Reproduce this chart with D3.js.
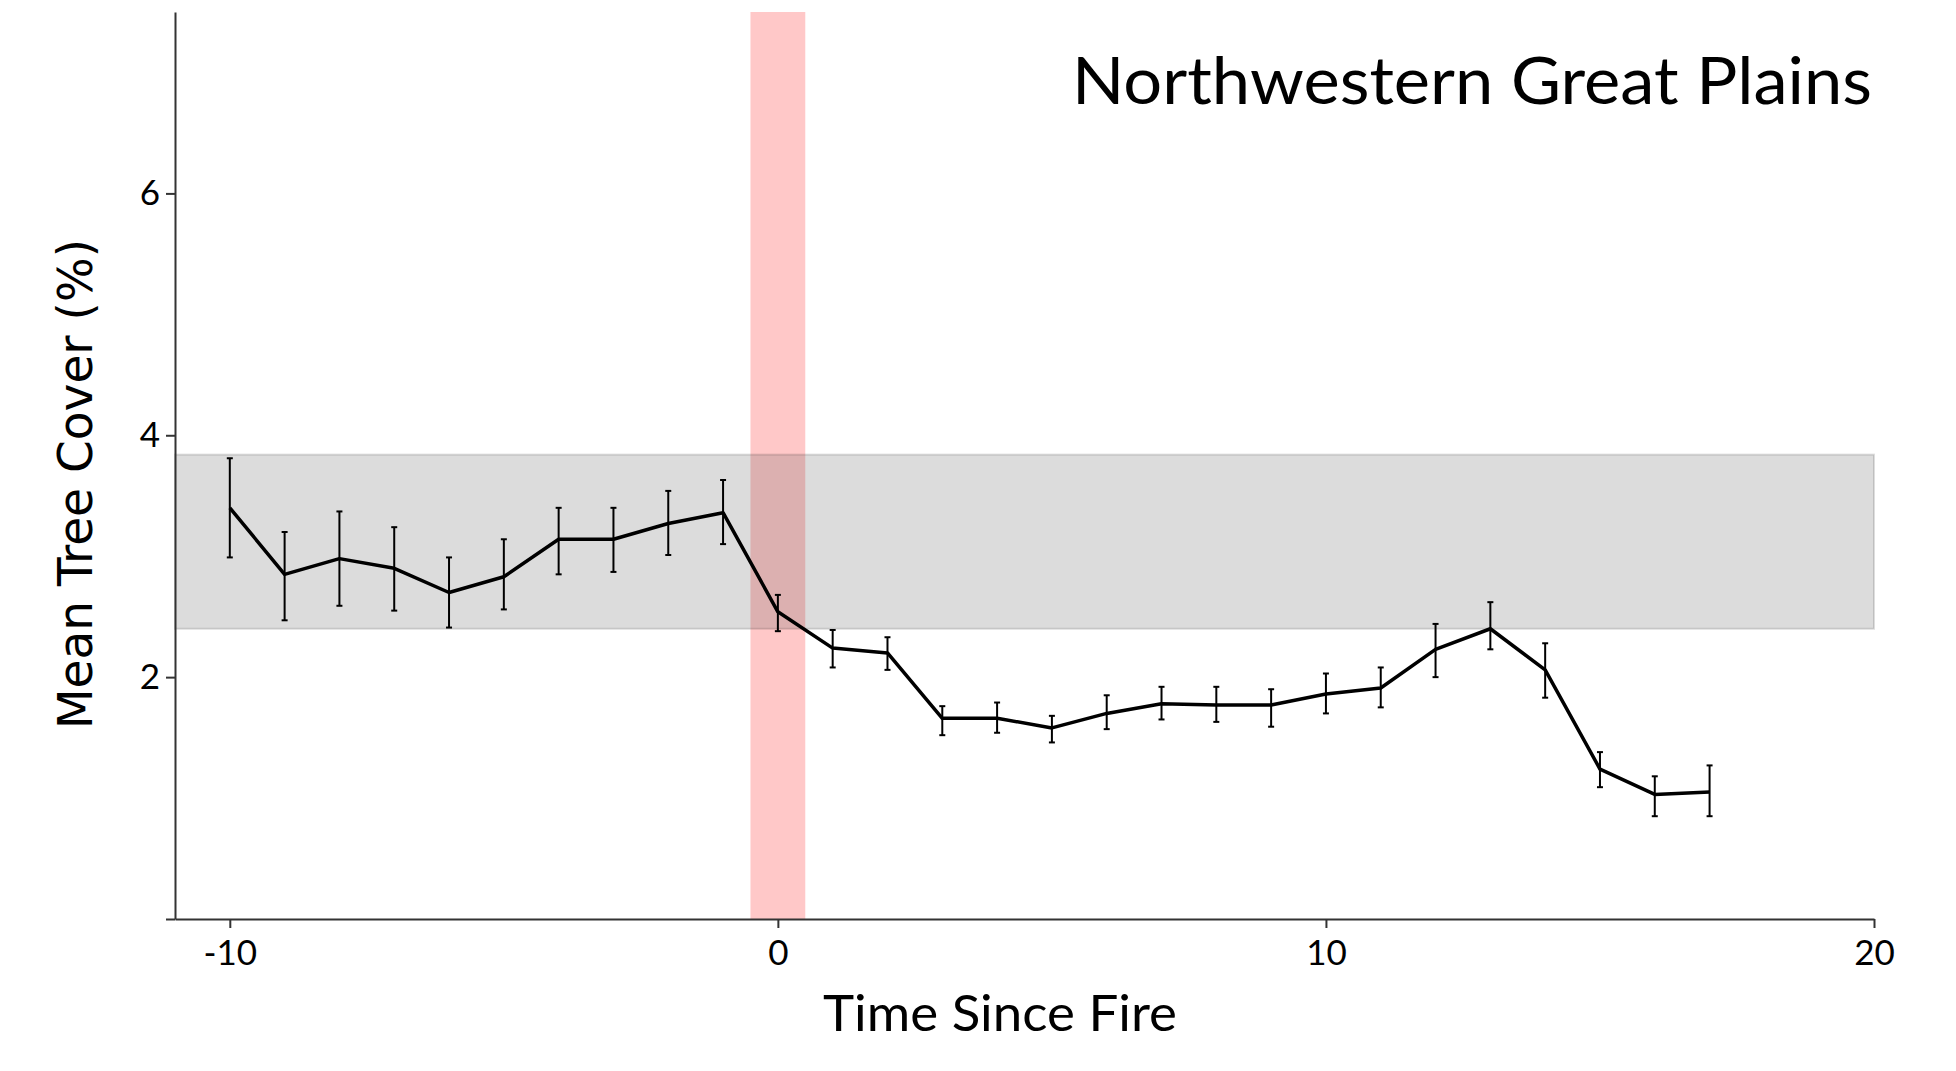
<!DOCTYPE html>
<html>
<head>
<meta charset="utf-8">
<script src="https://cdn.jsdelivr.net/npm/d3@7"></script>
<style>
  html, body { margin: 0; padding: 0; background: #fff; }
  svg { display: block; }
</style>
</head>
<body>
<svg id="chart" width="1956" height="1071"></svg>
<script>
// ---- data ----
const years = [-10, -9, -8, -7, -6, -5, -4, -3, -2, -1, 0, 1, 2, 3, 4, 5, 6, 7, 8, 9, 10, 11, 12, 13, 14, 15, 16, 17];
const meanCover = [3.40, 2.85, 2.98, 2.90, 2.70, 2.83, 3.14, 3.14, 3.27, 3.36, 2.54, 2.24, 2.20, 1.66, 1.66, 1.58, 1.70, 1.78, 1.77, 1.77, 1.86, 1.91, 2.23, 2.40, 2.06, 1.24, 1.03, 1.05];
const lowerCover = [2.99, 2.47, 2.59, 2.55, 2.41, 2.56, 2.85, 2.87, 3.01, 3.10, 2.38, 2.08, 2.06, 1.52, 1.54, 1.46, 1.57, 1.65, 1.63, 1.59, 1.70, 1.75, 2.00, 2.23, 1.83, 1.09, 0.85, 0.85];
const upperCover = [3.81, 3.20, 3.37, 3.24, 2.99, 3.14, 3.40, 3.40, 3.54, 3.63, 2.68, 2.39, 2.33, 1.76, 1.79, 1.68, 1.85, 1.92, 1.92, 1.90, 2.03, 2.08, 2.44, 2.62, 2.28, 1.38, 1.18, 1.27];
const baselineRange = [2.40, 3.84];
const fireWindow = [-0.5, 0.5];
const xTicks = [-10, 0, 10, 20];
const xTickLabels = ["-10", "0", "10", "20"];
const yTicks = [0, 2, 4, 6];
const yTickLabels = ["", "2", "4", "6"];
const titleText = "Northwestern Great Plains";
const xTitle = "Time Since Fire";
const yTitle = "Mean Tree Cover (%)";

// ---- scales ----
const svg = d3.select("#chart");
const x = d3.scaleLinear().domain([-11, 20]).range([175, 1874]);
const y = d3.scaleLinear().domain([0, 7.5]).range([919, 12]);

const rows = years.map((t, i) => ({ t, m: meanCover[i], lo: lowerCover[i], hi: upperCover[i] }));

// fire window (pink)
svg.append("rect")
  .attr("x", x(fireWindow[0]))
  .attr("width", x(fireWindow[1]) - x(fireWindow[0]))
  .attr("y", y(7.5))
  .attr("height", y(0) - y(7.5))
  .attr("fill", "rgb(255,0,0)")
  .attr("fill-opacity", 0.215);

// pre-fire baseline band (grey)
svg.append("rect")
  .attr("x", x(-11))
  .attr("width", x(20) - x(-11))
  .attr("y", y(baselineRange[1]))
  .attr("height", y(baselineRange[0]) - y(baselineRange[1]))
  .attr("fill", "rgb(80,80,80)")
  .attr("fill-opacity", 0.2)
  .attr("stroke", "rgb(0,0,0)")
  .attr("stroke-opacity", 0.13)
  .attr("stroke-width", 2);

// axes
const yAxis = d3.axisLeft(y).tickValues(yTicks)
  .tickFormat((d, i) => yTickLabels[i]).tickSize(9).tickSizeOuter(0).tickPadding(6);
const gy = svg.append("g").attr("transform", `translate(${x(-11)},0)`).call(yAxis);

const xAxis = d3.axisBottom(x).tickValues(xTicks)
  .tickFormat((d, i) => xTickLabels[i]).tickSize(9).tickSizeOuter(0).tickPadding(12);
const gx = svg.append("g").attr("transform", `translate(0,${y(0)})`).call(xAxis);

[gx, gy].forEach(g => {
  g.select(".domain").attr("stroke", "#333").attr("stroke-width", 2);
  g.selectAll(".tick line").attr("stroke", "#333").attr("stroke-width", 2);
  g.selectAll(".tick text").attr("fill", "#000")
    .style("font-family", "Lato, 'Open Sans', sans-serif").style("font-size", "35px");
});

// error bars
const eb = svg.append("g").attr("stroke", "#000").attr("stroke-width", 2).attr("fill", "none");
rows.forEach(d => {
  const cx = x(d.t);
  eb.append("line").attr("x1", cx).attr("x2", cx).attr("y1", y(d.lo)).attr("y2", y(d.hi));
  eb.append("line").attr("x1", cx - 3).attr("x2", cx + 3).attr("y1", y(d.lo)).attr("y2", y(d.lo));
  eb.append("line").attr("x1", cx - 3).attr("x2", cx + 3).attr("y1", y(d.hi)).attr("y2", y(d.hi));
});

// mean line
svg.append("path")
  .datum(rows)
  .attr("fill", "none")
  .attr("stroke", "#000")
  .attr("stroke-width", 3.5)
  .attr("stroke-linejoin", "round")
  .attr("d", d3.line().x(d => x(d.t)).y(d => y(d.m)));

// title
svg.append("text")
  .attr("x", 1872).attr("y", 104)
  .attr("text-anchor", "end")
  .attr("textLength", 800).attr("lengthAdjust", "spacingAndGlyphs")
  .style("font-family", "Lato, 'Open Sans', sans-serif").style("font-size", "65px")
  .attr("fill", "#000")
  .text(titleText);

// x title
svg.append("text")
  .attr("x", 1000).attr("y", 1031)
  .attr("text-anchor", "middle")
  .attr("textLength", 354).attr("lengthAdjust", "spacingAndGlyphs")
  .style("font-family", "Lato, 'Open Sans', sans-serif").style("font-size", "50px")
  .attr("fill", "#000")
  .text(xTitle);

// y title
svg.append("text")
  .attr("transform", "translate(92,484) rotate(-90)")
  .attr("text-anchor", "middle")
  .attr("textLength", 490).attr("lengthAdjust", "spacingAndGlyphs")
  .style("font-family", "'DejaVu Sans', Verdana, sans-serif").style("font-size", "48px")
  .attr("fill", "#000")
  .text(yTitle);
</script>
</body>
</html>
